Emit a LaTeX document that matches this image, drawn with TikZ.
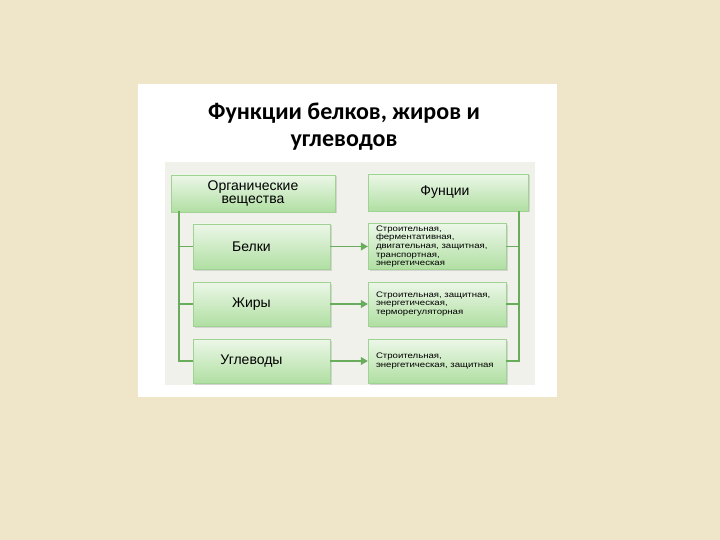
\documentclass[tikz,border=0pt]{standalone}
\usepackage{fontspec}
\setmainfont{Liberation Sans}
\newfontfamily\titlefont{Carlito}
\newfontfamily\widefont[FakeStretch=1.2]{Liberation Sans}
\usetikzlibrary{positioning,arrows.meta,shadows}
\definecolor{paper}{RGB}{239,230,202}
\definecolor{panelgray}{RGB}{241,241,236}
\definecolor{boxtop}{RGB}{236,247,232}
\definecolor{boxbottom}{RGB}{176,223,162}
\definecolor{boxline}{RGB}{160,210,148}
\definecolor{linkgreen}{RGB}{104,172,92}
\tikzset{
  box/.style={draw=boxline, top color=boxtop, bottom color=boxbottom,
    drop shadow={shadow xshift=1.5pt, shadow yshift=-1.5pt, opacity=.25},
    inner sep=2pt, font=\fontsize{14}{12.5}\selectfont, align=center},
  funbox/.style={box, font=\widefont\fontsize{8}{8.7}\selectfont, align=left,
    text width=122pt},
  link/.style={linkgreen, line width=1.1pt},
  arr/.style={link, -{Triangle[length=7pt,width=8pt]}}
}
\begin{document}
\begin{tikzpicture}[x=1pt,y=-1pt]
\useasboundingbox (0,0) rectangle (720,540);
\fill[paper] (0,0) rectangle (720,540);
\fill[white] (138,84) rectangle (557,397);
\fill[panelgray] (165,162) rectangle (535,385);

\node[font=\titlefont\bfseries\fontsize{24}{27}\selectfont, align=center]
  (title) at (344,127) {Функции белков, жиров и\\углеводов};

\node[box, minimum width=164pt, minimum height=37pt] (org) at (253,193.5)
  {Органические\\вещества};
\node[box, minimum width=160pt, minimum height=37pt] (fun) at (448,192.5)
  {\hspace*{-6pt}Фунции};

\node[box, minimum width=137pt, minimum height=45pt] (b1) at (261.5,246.5) {\hspace*{-20pt}Белки};
\node[box, minimum width=137pt, minimum height=44pt] (b2) at (261.5,304) {\hspace*{-20pt}Жиры};
\node[box, minimum width=137pt, minimum height=44pt] (b3) at (261.5,361) {\hspace*{-20pt}Углеводы};

\node[funbox, minimum width=138pt, minimum height=45pt] (f1) at (437,246.5)
  {Строительная,\\ферментативная,\\двигательная, защитная,\\транспортная,\\энергетическая};
\node[funbox, minimum width=138pt, minimum height=44pt] (f2) at (437,304)
  {Строительная, защитная,\\энергетическая,\\терморегуляторная};
\node[funbox, minimum width=138pt, minimum height=44pt] (f3) at (437,361)
  {Строительная,\\энергетическая, защитная};

\coordinate (lt) at (179,211);
\coordinate (rt) at (519,211);
\draw[link] (lt) |- (b3.west);
\draw[link] (lt |- b1.west) -- (b1.west);
\draw[link] (lt |- b2.west) -- (b2.west);
\draw[link] (rt) |- (f3.east);
\draw[link] (f1.east) -- (rt |- f1.east);
\draw[link] (f2.east) -- (rt |- f2.east);

\draw[arr] (b1) -- (f1);
\draw[arr] (b2) -- (f2);
\draw[arr] (b3) -- (f3);
\end{tikzpicture}
\end{document}
